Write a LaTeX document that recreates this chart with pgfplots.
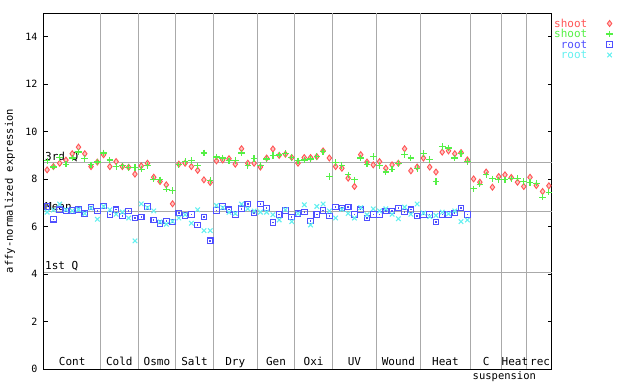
\documentclass[border=0pt]{standalone}
\usepackage{fontspec}
\setmainfont{DejaVu Sans Mono}
\usepackage{pgfplots}
\pgfplotsset{compat=1.18}
\usepackage{pgfplotstable}
\definecolor{cr}{RGB}{255,85,85}
\definecolor{cg}{RGB}{85,240,70}
\definecolor{cb}{RGB}{80,80,255}
\definecolor{cc}{RGB}{100,240,240}
\definecolor{sepgray}{RGB}{170,170,170}
\pgfdeclareplotmark{sqdot}{%
  \pgfpathrectangle{\pgfpoint{-\pgfplotmarksize}{-\pgfplotmarksize}}{\pgfpoint{2\pgfplotmarksize}{2\pgfplotmarksize}}%
  \pgfusepathqstroke
  \pgfpathrectangle{\pgfpoint{-0.7pt}{-0.7pt}}{\pgfpoint{1.4pt}{1.4pt}}%
  \pgfusepathqfill}
\pgfplotstableread{
k r g b c
0 8.39 8.77 6.85 6.61
1 8.53 8.51 6.31 6.70
2 8.67 8.91 6.71 6.95
3 8.80 8.63 6.66 6.71
4 9.07 8.89 6.68 6.66
5 9.35 9.14 6.71 6.72
6 9.07 8.86 6.54 6.55
7 8.53 8.60 6.82 6.78
8 8.72 8.72 6.66 6.31
9 9.03 9.10 6.87 6.85
10 8.53 8.81 6.52 6.71
11 8.74 8.53 6.71 6.52
12 8.53 8.56 6.45 6.61
13 8.50 8.50 6.66 6.36
14 8.21 8.50 6.36 5.40
15 8.56 8.42 6.40 6.96
16 8.67 8.58 6.85 6.80
17 8.08 8.00 6.28 6.66
18 7.90 7.97 6.14 6.20
19 7.76 7.58 6.24 6.10
20 6.96 7.52 6.19 6.22
21 8.63 8.60 6.57 6.36
22 8.67 8.74 6.47 6.50
23 8.53 8.79 6.50 6.14
24 8.37 8.56 6.07 6.71
25 7.97 9.10 6.40 5.83
26 7.86 7.93 5.40 5.83
27 8.77 8.93 6.68 6.89
28 8.81 8.89 6.85 6.80
29 8.86 8.77 6.71 6.60
30 8.63 8.79 6.52 6.55
31 9.28 9.10 6.75 6.95
32 8.67 8.58 6.95 6.75
33 8.67 8.86 6.57 6.66
34 8.51 8.58 6.95 6.61
35 8.89 8.85 6.78 6.61
36 9.27 8.99 6.17 6.50
37 9.00 9.02 6.52 6.28
38 9.05 9.08 6.68 6.71
39 8.91 8.92 6.40 6.21
40 8.67 8.77 6.54 6.55
41 8.91 8.81 6.61 6.92
42 8.91 8.85 6.24 6.07
43 8.95 8.95 6.50 6.85
44 9.19 9.15 6.68 6.95
45 8.89 8.11 6.45 6.66
46 8.53 8.70 6.82 6.36
47 8.46 8.58 6.78 6.72
48 8.04 8.18 6.82 6.55
49 7.69 7.97 6.50 6.36
50 9.03 8.89 6.71 6.80
51 8.72 8.63 6.36 6.50
52 8.60 8.95 6.50 6.75
53 8.74 8.58 6.50 6.66
54 8.46 8.30 6.66 6.75
55 8.60 8.42 6.66 6.52
56 8.67 8.67 6.78 6.33
57 9.28 9.03 6.61 6.82
58 8.35 8.89 6.71 6.52
59 8.51 8.46 6.45 6.95
60 8.89 9.07 6.52 6.57
61 8.51 8.84 6.50 6.42
62 8.30 7.90 6.19 6.47
63 9.14 9.38 6.52 6.61
64 9.19 9.31 6.50 6.54
65 9.07 8.89 6.57 6.66
66 9.12 9.07 6.78 6.21
67 8.81 8.74 6.52 6.28
68 8.01 7.59 nan nan
69 7.87 7.79 nan nan
70 8.30 8.18 nan nan
71 7.66 8.01 nan nan
72 8.11 7.97 nan nan
73 8.18 7.97 nan nan
74 8.07 8.01 nan nan
75 7.87 8.04 nan nan
76 7.69 7.90 nan nan
77 8.08 7.87 nan nan
78 7.73 7.83 nan nan
79 7.48 7.24 nan nan
80 7.72 7.45 nan nan
}\datatable
\begin{document}
\begin{tikzpicture}[x=1pt,y=1pt]
\begin{axis}[
  width=508pt, height=356pt, scale only axis,
  xmin=-0.5, xmax=80.5, ymin=0, ymax=15,
  xtick=\empty,
  ytick={0,2,...,14},
  tick align=inside,
  major tick length=4pt,
  axis line style={line width=1pt},
  every tick/.style={black, line width=0.8pt},
  /pgf/number format/assume math mode=true,
  yticklabel style={font=\fontsize{10}{10}\selectfont, xshift=-3pt},
  ylabel={affy-normalized expression},
  ylabel style={at={(axis description cs:-0.067,0.5)}, anchor=center, font=\fontsize{10.5}{10.5}\selectfont},
  unbounded coords=discard,
  legend plot pos=right,
  legend style={at={(axis description cs:0.998,0.988)}, anchor=north west, draw=none, fill=none,
    font=\fontsize{11}{11}\selectfont, row sep=2.5pt, column sep=19pt,
    nodes={inner sep=0pt, text height=8pt, text depth=0pt}},
  legend cell align=right,
  clip=false,
]
\coordinate (O) at (rel axis cs:0,0);
\pgfplotsinvokeforeach{8.5,14.5,20.5,26.5,33.5,39.5,45.5,52.5,59.5,67.5,72.5,76.5}{
  \draw[sepgray, line width=1pt] (axis cs:#1,0) -- (axis cs:#1,15);
}
\draw[sepgray, line width=1pt] (axis cs:-0.5,8.68) -- (axis cs:80.5,8.68);
\draw[sepgray, line width=1pt] (axis cs:-0.5,6.62) -- (axis cs:80.5,6.62);
\draw[sepgray, line width=1pt] (axis cs:-0.5,4.07) -- (axis cs:80.5,4.07);
\addplot[only marks, mark=diamond*, mark size=3pt, draw=cr, fill=cr!35!white, line width=0.9pt] table[x=k,y=r] {\datatable};
\addlegendentry{\textcolor{cr}{shoot}}
\addplot[only marks, mark=+, mark size=3.3pt, color=cg, line width=1.2pt] table[x=k,y=g] {\datatable};
\addlegendentry{\textcolor{cg}{shoot}}
\addplot[only marks, mark=sqdot, mark size=2.8pt, color=cb, line width=1.1pt] table[x=k,y=b] {\datatable};
\addlegendentry{\textcolor{cb}{root}}
\addplot[only marks, mark=x, mark size=3.2pt, color=cc, line width=1.1pt] table[x=k,y=c] {\datatable};
\addlegendentry{\textcolor{cc}{root}}
\begin{scope}[font=\fontsize{11}{11}\selectfont]
\node[anchor=south west, inner sep=1pt] at (axis cs:-0.5,8.68) {3rd Q};
\node[anchor=south west, inner sep=1pt] at (axis cs:-0.5,6.62) {Mean};
\node[anchor=south west, inner sep=1pt] at (axis cs:-0.5,4.07) {1st Q};
\node[anchor=base, yshift=4pt] at (axis cs:4,0) {Cont};
\node[anchor=base, yshift=4pt] at (axis cs:11.5,0) {Cold};
\node[anchor=base, yshift=4pt] at (axis cs:17.5,0) {Osmo};
\node[anchor=base, yshift=4pt] at (axis cs:23.5,0) {Salt};
\node[anchor=base, yshift=4pt] at (axis cs:30,0) {Dry};
\node[anchor=base, yshift=4pt] at (axis cs:36.5,0) {Gen};
\node[anchor=base, yshift=4pt] at (axis cs:42.5,0) {Oxi};
\node[anchor=base, yshift=4pt] at (axis cs:49,0) {UV};
\node[anchor=base, yshift=4pt] at (axis cs:56,0) {Wound};
\node[anchor=base, yshift=4pt] at (axis cs:63.5,0) {Heat};
\node[anchor=base, yshift=4pt] at (axis cs:70,0) {C};
\node[anchor=base, yshift=4pt] at (axis cs:74.6,0) {Heat};
\node[anchor=base, yshift=4pt] at (axis cs:78.6,0) {rec};
\node[anchor=base, font=\fontsize{10.5}{10.5}\selectfont] at (axis cs:72.9,0) [yshift=-10pt] {suspension};
\end{scope}
\end{axis}
\pgfresetboundingbox
\path[use as bounding box] ([shift={(-44pt,-15pt)}]O) rectangle ([shift={(596pt,369pt)}]O);
\end{tikzpicture}
\end{document}
